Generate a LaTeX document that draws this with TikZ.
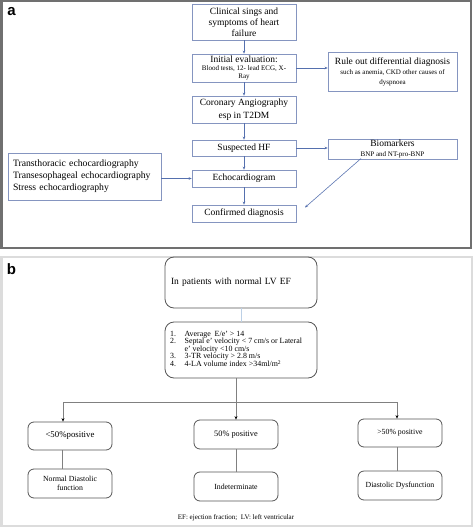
\documentclass[tikz,border=0pt]{standalone}
\usepackage{fontspec}
\setmainfont{Liberation Serif}
\newfontfamily\labfont{Liberation Sans}
\usetikzlibrary{arrows.meta}
\definecolor{aframe}{HTML}{707070}
\definecolor{bframe}{HTML}{DCDCDC}
\definecolor{abox}{HTML}{8595C0}
\definecolor{aarrow}{HTML}{5570AE}
\definecolor{bbox}{HTML}{555555}
\definecolor{bline}{HTML}{808080}
\definecolor{blite}{HTML}{BCD0E6}
\newcommand{\bigt}{\fontsize{9.5}{11}\selectfont}
\newcommand{\smlt}{\fontsize{7}{8}\selectfont}
\begin{document}
\begin{tikzpicture}[x=1pt,y=-1pt,
  abx/.style={draw=abox,line width=0.7pt,inner sep=0pt,align=center,minimum width=104pt,font=\bigt},
  aarr/.style={draw=aarrow,line width=0.6pt,-{Stealth[length=3pt,width=2.6pt]}},
  bbx/.style={draw=bbox,line width=0.8pt,rounded corners=6pt,inner sep=0pt,align=center,minimum width=84pt},
  bln/.style={draw=bline,line width=0.6pt},
  barr/.style={draw=bline,line width=0.6pt,-{Stealth[length=3.5pt,width=3pt,color=black]}},
  lab/.style={font=\labfont\bfseries\fontsize{15}{15}\selectfont,inner sep=0pt}
]
\useasboundingbox (0,0) rectangle (474,529);
% panel frames
\draw[aframe,line width=2.5pt] (1.25,1.25) rectangle (471,248);
\draw[bframe,line width=2.5pt] (1.25,257) rectangle (472,526);
\node[lab] (la) at (11.5,11.5) {a};
\node[lab] (lb) at (11.5,269.5) {b};

% panel a
\node[abx,minimum height=36pt] (clin) at (244,22)
  {Clinical sings and\\symptoms of heart\\failure};
\node[abx,minimum height=28pt,font=\fontsize{7}{8}\selectfont] (init) at (244,68)
  {{\fontsize{9.5}{10.5}\selectfont Initial evaluation:}\\[-0.5pt]
   Blood tests, 12- lead ECG, X-\\Ray};
\node[abx,minimum width=129pt,minimum height=39pt,font=\fontsize{7}{10}\selectfont] (rule) at (392.5,71.5)
  {{\fontsize{9.5}{10}\selectfont Rule out differential diagnosis}\\
   such as anemia, CKD other causes of\\dyspnoea};
\node[abx,minimum height=27pt,font=\fontsize{9.5}{12.5}\selectfont] (cor) at (244,109.5)
  {Coronary Angiography\\esp in T2DM};
\node[abx,minimum height=16pt] (susp) at (244,148)
  {Suspected HF};
\node[abx,minimum width=129pt,minimum height=20pt,font=\fontsize{7}{9.5}\selectfont] (bio) at (392.5,149)
  {{\fontsize{9.5}{9.5}\selectfont Biomarkers}\\
   BNP and NT-pro-BNP};
\node[abx,minimum height=17pt] (echo) at (244,178.5)
  {Echocardiogram};
\node[abx,minimum width=153pt,minimum height=47pt,align=left,text width=143pt,font=\fontsize{9.7}{12}\selectfont] (left) at (84.5,176.5)
  {Transthoracic echocardiography\\Transesophageal echocardiography\\Stress echocardiography};
\node[abx,minimum height=17pt] (conf) at (244,213.5)
  {Confirmed diagnosis};

\draw[aarr] (clin.south) -- (init.north);
\draw[aarr] (init.east) -- (init.east -| rule.west);
\draw[aarr] (init.south) -- (cor.north);
\draw[aarr] (cor.south) -- (susp.north);
\draw[aarr] (susp.east) -- (susp.east -| bio.west);
\draw[aarr] (susp.south) -- (echo.north);
\draw[aarr] (left.east |- echo.west) -- (echo.west);
\draw[aarr] (echo.south) -- (conf.north);
\coordinate (biostart) at (361,158.5);
\coordinate (bioend) at (305,207.5);
\draw[aarr] (biostart) -- (bioend);

% panel b
\node[bbx,rounded corners=9pt,minimum width=152pt,minimum height=51pt,align=left,text width=140pt,font=\fontsize{9.5}{11}\selectfont] (top) at (241,282.5)
  {In patients with normal LV EF};
\node[bbx,rounded corners=9pt,minimum width=152pt,minimum height=56pt] (crit) at (241,350) {};
\node[anchor=north west,inner sep=0pt,font=\fontsize{7.9}{6.3}\selectfont] (critT) at (170,331)
  {\begin{tabular}{@{}l@{\hspace{8.5pt}}l@{}}
   1. & Average\ \ E/e’ > 14\\
   2. & Septal e’ velocity < 7 cm/s or Lateral\\
      & e’ velocity <10 cm/s\\
   3. & 3-TR velocity > 2.8 m/s\\
   4. & 4-LA volume index >34ml/m\textsuperscript{2}
   \end{tabular}};
\draw[blite,line width=1pt] (top.south) -- (crit.north);

\node[bbx,minimum height=28pt,font=\fontsize{8.8}{10}\selectfont] (lt) at (70,436) {<50\%positive};
\node[bbx,minimum height=29pt,font=\fontsize{8.3}{10}\selectfont] (mid) at (236,434.5) {50\% positive};
\node[bbx,minimum height=28pt,font=\fontsize{7.8}{10}\selectfont] (rt) at (400,433) {>50\% positive};
\node[bbx,minimum height=29pt,font=\fontsize{7.8}{9.5}\selectfont] (ln) at (70,483.5) {Normal Diastolic\\function};
\node[bbx,minimum height=29pt,font=\fontsize{7.8}{9.5}\selectfont] (lm) at (236,486.5) {Indeterminate};
\node[bbx,minimum height=29pt,font=\fontsize{7.8}{9.5}\selectfont] (lr) at (400,485.5) {Diastolic Dysfunction};

\coordinate (critb) at (236,378);
\coordinate (hl) at (63,402);
\coordinate (hm) at (236,402);
\coordinate (hr) at (397,402);
\draw[bln] (critb) -- (hm);
\draw[bln] (hl) -- (hr);
\draw[barr] (hl) -- (hl |- lt.north);
\draw[barr] (hm) -- (mid.north);
\draw[barr] (hr) -- (hr |- rt.north);
\draw[bln] (62,450) -- (62,469);
\draw[bln] (mid.south) -- (lm.north);
\draw[bln] (397,447) -- (397,471);

\node[inner sep=0pt,font=\fontsize{7}{8}\selectfont] (foot) at (236,518) {EF: ejection fraction;\ \ LV: left ventricular};
\end{tikzpicture}
\end{document}
